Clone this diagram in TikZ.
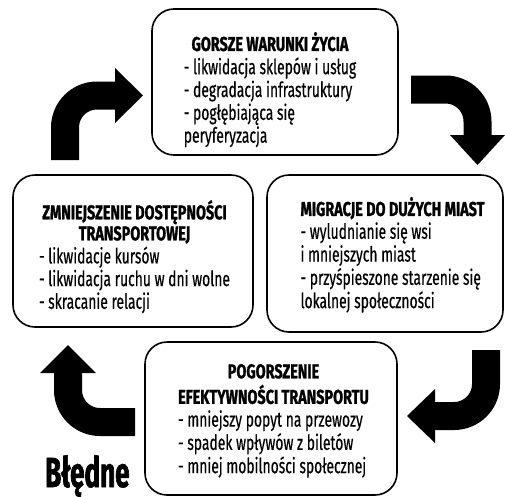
\documentclass[tikz,border=0pt]{standalone}
\usepackage{fontspec}
\newfontfamily\bodyf{Fira Sans}[FakeStretch=0.66, FakeBold=0.4]
\newfontfamily\titlef{Fira Sans}[FakeStretch=0.72, FakeBold=1.2]
\newfontfamily\bigf{Fira Sans}[FakeStretch=0.62, FakeBold=1.5]
\begin{document}
\begin{tikzpicture}[x=1pt,y=-1pt,
  box/.style={draw=black, line width=1.6pt, rounded corners=22pt, inner sep=0pt},
  txt/.style={inner sep=0pt, anchor=north, font=\bodyf\fontsize{21}{21.5}\selectfont},
  shaft/.style={line width=28pt, line cap=butt, rounded corners=32pt},
  head/.style={fill=black, draw=none}]
\useasboundingbox (0,0) rectangle (505,496);
\newcommand{\ttl}[1]{\multicolumn{1}{@{}c@{}}{\titlef\bfseries\fontsize{20}{21.5}\selectfont #1}}
% boxes
\node[box, minimum width=246pt, minimum height=146pt] (top) at (275,82) {};
\node[box, minimum width=240pt, minimum height=152pt] (left) at (133,251) {};
\node[box, minimum width=236pt, minimum height=157pt] (right) at (385,253.5) {};
\node[box, minimum width=252pt, minimum height=153pt] (bottom) at (271,418.5) {};
% texts
\node[txt] (toptext) at (270,32) {\begin{tabular}{@{}l@{}}
\ttl{GORSZE WARUNKI ŻYCIA}\\
- likwidacja sklepów i usług\\
- degradacja infrastruktury\\
- pogłębiająca się\\
peryferyzacja
\end{tabular}};
\node[txt, font=\bodyf\fontsize{21}{21}\selectfont] (lefttext) at (134.5,200) {\begin{tabular}{@{}l@{}}
\ttl{ZMNIEJSZENIE DOSTĘPNOŚCI}\\
\ttl{TRANSPORTOWEJ}\\
- likwidacje kursów\\
- likwidacja ruchu w dni wolne\\
- skracanie relacji
\end{tabular}};
\node[txt] (righttext) at (392.5,197) {\begin{tabular}{@{}l@{}}
\ttl{MIGRACJE DO DUŻYCH MIAST}\\
- wyludnianie się wsi\\
i mniejszych miast\\
- przyśpieszone starzenie się\\
lokalnej społeczności
\end{tabular}};
\node[txt] (bottomtext) at (273.5,363) {\begin{tabular}{@{}l@{}}
\ttl{POGORSZENIE}\\
\ttl{EFEKTYWNOŚCI TRANSPORTU}\\
- mniejszy popyt na przewozy\\
- spadek wpływów z biletów\\
- mniej mobilności społecznej
\end{tabular}};
% arrows
\coordinate (a1s) at (65,160); \coordinate (a1c) at (65,95.5); \coordinate (a1e) at (116,95.5);
\draw[shaft] (a1s) -- (a1c) -- (a1e);
\fill[head] (115,68) -- (143,95.5) -- (115,123) -- cycle;

\coordinate (a2s) at (411,89.5); \coordinate (a2c) at (477.5,89.5); \coordinate (a2e) at (477.5,136);
\draw[shaft] (a2s) -- (a2c) -- (a2e);
\fill[head] (450,135) -- (477.5,165) -- (505,135) -- cycle;

\coordinate (a3s) at (486,350); \coordinate (a3c) at (486,416); \coordinate (a3e) at (434,416);
\draw[shaft] (a3s) -- (a3c) -- (a3e);
\fill[head] (435,389) -- (407,416) -- (435,443) -- cycle;

\coordinate (a4s) at (135,422); \coordinate (a4c) at (68,422); \coordinate (a4e) at (68,372);
\draw[shaft] (a4s) -- (a4c) -- (a4e);
\fill[head] (40,373) -- (68,345) -- (96,373) -- cycle;
% label
\node[inner sep=0pt, anchor=base west, font=\bigf\bfseries\fontsize{42}{42}\selectfont] (label) at (45,487) {Błędne};
\end{tikzpicture}
\end{document}
